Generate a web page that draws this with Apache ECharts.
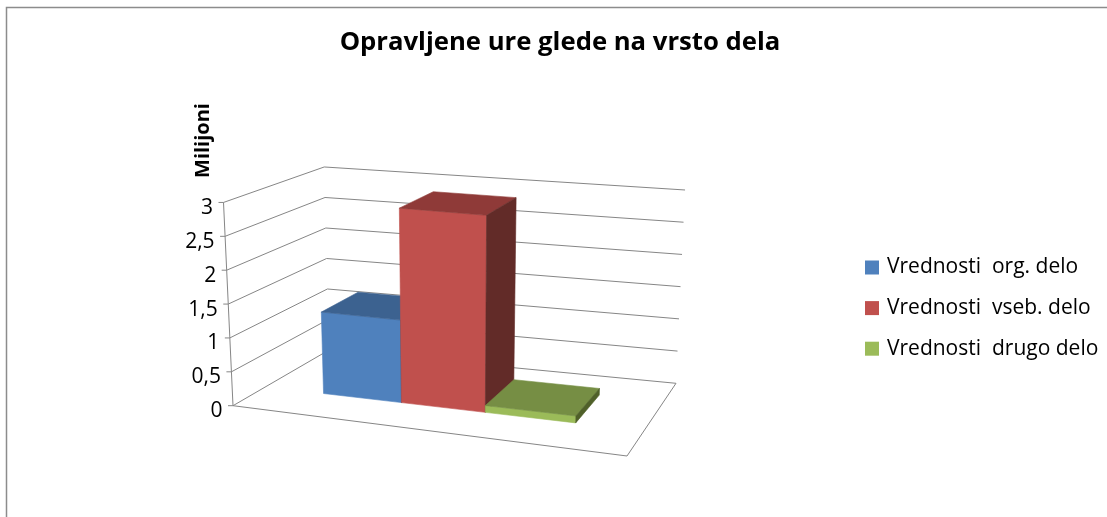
<!DOCTYPE html>
<html><head><meta charset="utf-8">
<style>html,body{margin:0;padding:0;background:#fff}#c{width:1107px;height:517px}</style>
<script src="https://cdn.jsdelivr.net/npm/echarts@6/dist/echarts.min.js"></script>
</head><body><div id="c"></div>
<script>
const seriesNames = ['Vrednosti  org. delo', 'Vrednosti  vseb. delo', 'Vrednosti  drugo delo'];
const seriesValues = [1.23, 2.9, 0.1];
const tickValues = [0, 0.5, 1, 1.5, 2, 2.5, 3];
const tickLabels = ['0', '0,5', '1', '1,5', '2', '2,5', '3'];
const frontColors = ['#4F81BD', '#C0504D', '#9BBB59'];
const topColors = ['#3C6290', '#8F3A38', '#768E44'];
const sideColors = ['#2A4668', '#622B28', '#4F6029'];

// Perspective of the 3D box (floor homography + vertical vanishing point)
const H = {a:292.83,b:148.06,c:233,d:-23.28,e:-0.32,f:405.7,g:-0.16136,h:0.15823};
const VP = [454, 5137];
const HT = {k:0.00492, u:-0.000291, w:0.000544};
const YMAX = 3, U0 = 0.176, U1 = 0.843, W0 = 0.308, W1 = 0.712;
const GRID = {left:233, top:203, width:394, height:203};
const FONT = '"Open Sans", Lato, sans-serif';

function P(u, w, v) {
  const den = H.g*u + H.h*w + 1;
  const qx = (H.a*u + H.b*w + H.c)/den, qy = (H.d*u + H.e*w + H.f)/den;
  const up = v/YMAX/(HT.k + HT.u*u + HT.w*w);
  return [qx - up*(VP[0]-qx)/(VP[1]-qy), qy - up];
}
const toU = px => U0 + (px-GRID.left)/GRID.width*(U1-U0);
const toV = py => (GRID.top+GRID.height-py)/GRID.height*YMAX;
const poly = (points, fill, edge) => ({type:'polygon', shape:{points}, style:{fill, stroke:edge||fill, lineWidth:0.6}});
const line = (points) => ({type:'polyline', shape:{points}, style:{fill:'none', stroke:'#868686', lineWidth:1}});

function barRenderer(i) {
  return function (params, api) {
    const c = api.coord([api.value(0), api.value(1)]);
    const bw = api.size([1, 0])[0];
    const uL = toU(c[0]-bw/2), uR = toU(c[0]+bw/2), v = toV(c[1]);
    const f = frontColors[i], t = topColors[i], s = sideColors[i];
    return {type:'group', children:[
      poly([P(uL,W0,0),P(uR,W0,0),P(uR,W0,v),P(uL,W0,v)], f),
      poly([P(uL,W0,v),P(uR,W0,v),P(uR,W1,v),P(uL,W1,v)], t),
      poly([P(uR,W0,0),P(uR,W1,0),P(uR,W1,v),P(uR,W0,v)], s)
    ]};
  };
}

const wallSeries = {
  type:'custom', coordinateSystem:'cartesian2d', silent:true, z:1,
  data: tickValues.map((t,i) => [0, t, i]),
  encode:{x:0,y:1},
  renderItem(params, api) {
    const v = toV(api.coord([0, api.value(1)])[1]);
    const label = tickLabels[api.value(2)];
    const p = P(0,0,v);
    const kids = [
      line([P(0,0,v), P(0,1,v), P(1,1,v)]),
      line([[p[0]-5, p[1]], p]),
      {type:'text', style:{text:label, x:p[0]-10.5, y:p[1]+5.5, textAlign:'right', textVerticalAlign:'middle',
        fill:'#000', font:'21px '+FONT}}
    ];
    if (api.value(1) === 0) {
      kids.push(line([P(0,0,0), P(1,0,0), P(1,1,0)]));
      kids.push(line([P(0,0,0), P(0,0,YMAX)]));
    }
    return {type:'group', children:kids};
  }
};

const chart = echarts.init(document.getElementById('c'), null, {renderer:'canvas'});
chart.setOption({
  animation:false,
  backgroundColor:'#fff',
  title:{text:'Opravljene ure glede na vrsto dela', left:560, top:30, padding:0, textAlign:'center',
    textStyle:{fontFamily:FONT, fontWeight:'bold', fontSize:25.7, color:'#000'}},
  grid:GRID,
  xAxis:{type:'category', data:seriesNames, show:false},
  yAxis:{type:'value', min:0, max:YMAX, interval:0.5, show:false},
  legend:{orient:'vertical', left:865, top:257, padding:0, itemWidth:14, itemHeight:14, itemGap:19.6, icon:'rect',
    data:seriesNames, selectedMode:false,
    textStyle:{fontFamily:FONT, fontSize:21, lineHeight:20, color:'#000', padding:[0,0,0,3]}},
  graphic:[
    {type:'rect', shape:{x:6.5,y:7.5,width:1300,height:800}, style:{fill:'none',stroke:'#8c8c8c',lineWidth:1.5}, silent:true, z:0},
    {type:'text', x:203, y:140.5, rotation:Math.PI/2, silent:true,
      style:{text:'Milijoni', textAlign:'center', textVerticalAlign:'middle', fill:'#000', font:'bold 20px '+FONT}}
  ],
  series:[wallSeries].concat(seriesNames.map((name,i) => ({
    type:'custom', name, coordinateSystem:'cartesian2d', z:2+i, silent:true,
    itemStyle:{color:frontColors[i]},
    data:[[i, seriesValues[i]]], encode:{x:0,y:1},
    renderItem:barRenderer(i)
  })))
});
</script></body></html>
